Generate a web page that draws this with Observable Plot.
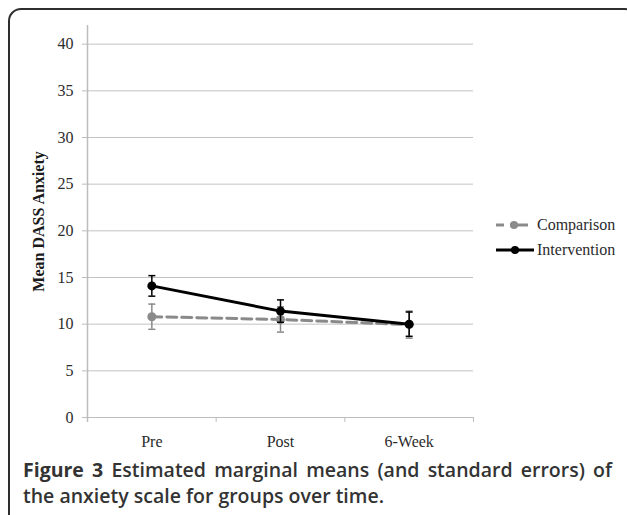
<!DOCTYPE html>
<html>
<head>
<meta charset="utf-8">
<script src="https://cdn.jsdelivr.net/npm/d3@7"></script>
<script src="https://cdn.jsdelivr.net/npm/@observablehq/plot@0.6"></script>
<style>
  html, body { margin: 0; padding: 0; background: #fff; }
  #wrap { position: relative; width: 627px; height: 515px; overflow: hidden; background: #fff; }
  #frame { position: absolute; left: 8px; top: 8px; width: 630px; height: 530px; box-sizing: border-box;
           border: 2px solid #2e2e2e; border-radius: 13px; }
  #chart { position: absolute; left: 0; top: 0; }
  #legend { position: absolute; left: 495px; top: 212px; font-family: "Liberation Serif", serif; font-size: 16px; color: #2b2b2b; }
  #legend .row { display: flex; align-items: center; height: 25px; }
  #legend svg { margin-right: 2px; }
  #caption { position: absolute; left: 23px; top: 457px; width: 589px; font-family: "Open Sans", sans-serif;
             font-weight: 600; font-size: 19.5px; line-height: 26px; color: #333; }
  #caption .l1 { text-align: justify; text-align-last: justify; white-space: nowrap; }
  #caption b { font-weight: 700; }
</style>
</head>
<body>
<div id="wrap">
  <div id="frame"></div>
  <div id="chart"></div>
  <div id="legend"></div>
  <div id="caption">
    <div class="l1"><b>Figure 3</b> Estimated marginal means (and standard errors) of</div>
    <div class="l2">the anxiety scale for groups over time.</div>
  </div>
</div>
<script>
const categories = ["Pre", "Post", "6-Week"];
const groups = ["Comparison", "Intervention"];
const comparisonMean = [10.8, 10.5, 9.95];
const comparisonSE = [1.35, 1.35, 1.45];
const interventionMean = [14.1, 11.4, 10.0];
const interventionSE = [1.1, 1.2, 1.3];
const yTicks = [0, 5, 10, 15, 20, 25, 30, 35, 40];
const yLabel = "Mean DASS Anxiety";

const colors = { Comparison: "#8a8a8a", Intervention: "#000000" };
const dashes = { Comparison: "10,5", Intervention: null };

function rows(group, means, ses) {
  return categories.map((c, i) => ({ group, cat: c, x: i + 0.5, mean: means[i], lo: means[i] - ses[i], hi: means[i] + ses[i] }));
}
const comp = rows(groups[0], comparisonMean, comparisonSE);
const intv = rows(groups[1], interventionMean, interventionSE);

const capSymbol = {
  draw(context, size) {
    const w = Math.sqrt(size / Math.PI);
    context.moveTo(-w, 0);
    context.lineTo(w, 0);
  }
};

function seriesMarks(data) {
  const g = data[0].group;
  const col = colors[g];
  return [
    Plot.ruleX(data, { x: "x", y1: "lo", y2: "hi", stroke: col, strokeWidth: 1.5 }),
    Plot.dot(data, { x: "x", y: "lo", symbol: capSymbol, r: 3.5, stroke: col, strokeWidth: 1.5, fill: "none" }),
    Plot.dot(data, { x: "x", y: "hi", symbol: capSymbol, r: 3.5, stroke: col, strokeWidth: 1.5, fill: "none" }),
    Plot.line(data, { x: "x", y: "mean", stroke: col, strokeWidth: 3, strokeDasharray: dashes[g] }),
    Plot.dot(data, { x: "x", y: "mean", r: 4.5, fill: col, stroke: "none" })
  ];
}

const plot = Plot.plot({
  width: 627,
  height: 460,
  marginLeft: 87,
  marginRight: 154,
  marginTop: 25,
  marginBottom: 43,
  style: { fontFamily: "'Liberation Serif', serif", fontSize: "16px", background: "transparent", color: "#2b2b2b", overflow: "visible" },
  x: { type: "linear", domain: [0, categories.length] },
  y: { domain: [0, 42] },
  marks: [
    Plot.gridY(yTicks, { stroke: "#c2c2c2", strokeOpacity: 1, strokeWidth: 1 }),
    Plot.ruleX([0], { stroke: "#bdbdbd", strokeWidth: 1.5, insetBottom: -5 }),
    Plot.ruleY([0], { stroke: "#bdbdbd", strokeWidth: 1 }),
    Plot.axisY(yTicks, { tickSize: 5, tickPadding: 9, stroke: "#bdbdbd", fill: "#2b2b2b", label: null, tickFormat: d => String(d), fontFamily: "'Liberation Serif', serif" }),
    Plot.axisX(d3.range(categories.length + 1), { tickSize: 5, stroke: "#bdbdbd", tickFormat: () => "", label: null }),
    Plot.axisX(categories.map((c, i) => i + 0.5), { tickSize: 0, tickPadding: 18, fill: "#2b2b2b", tickFormat: v => categories[Math.floor(v)], label: null, fontFamily: "'Liberation Serif', serif" }),
    Plot.text([yLabel], { text: d => d, frameAnchor: "left", textAnchor: "middle", rotate: -90, dx: -49, fontWeight: "bold", fontSize: 16, fill: "#1a1a1a" }),
    ...seriesMarks(comp),
    ...seriesMarks(intv)
  ]
});
document.getElementById("chart").appendChild(plot);

// Legend
const legend = document.getElementById("legend");
groups.forEach(g => {
  const row = document.createElement("div");
  row.className = "row";
  const col = colors[g];
  const lineSvg = dashes[g]
    ? `<line x1="1" y1="6" x2="9" y2="6" stroke="${col}" stroke-width="3"></line><line x1="15" y1="6" x2="33" y2="6" stroke="${col}" stroke-width="3"></line><circle cx="19" cy="6" r="4" fill="${col}"></circle>`
    : `<line x1="1" y1="6" x2="39" y2="6" stroke="${col}" stroke-width="3"></line><circle cx="20" cy="6" r="4" fill="${col}"></circle>`;
  row.innerHTML = `<svg width="40" height="12">${lineSvg}</svg><span>${g}</span>`;
  legend.appendChild(row);
});
</script>
</body>
</html>
